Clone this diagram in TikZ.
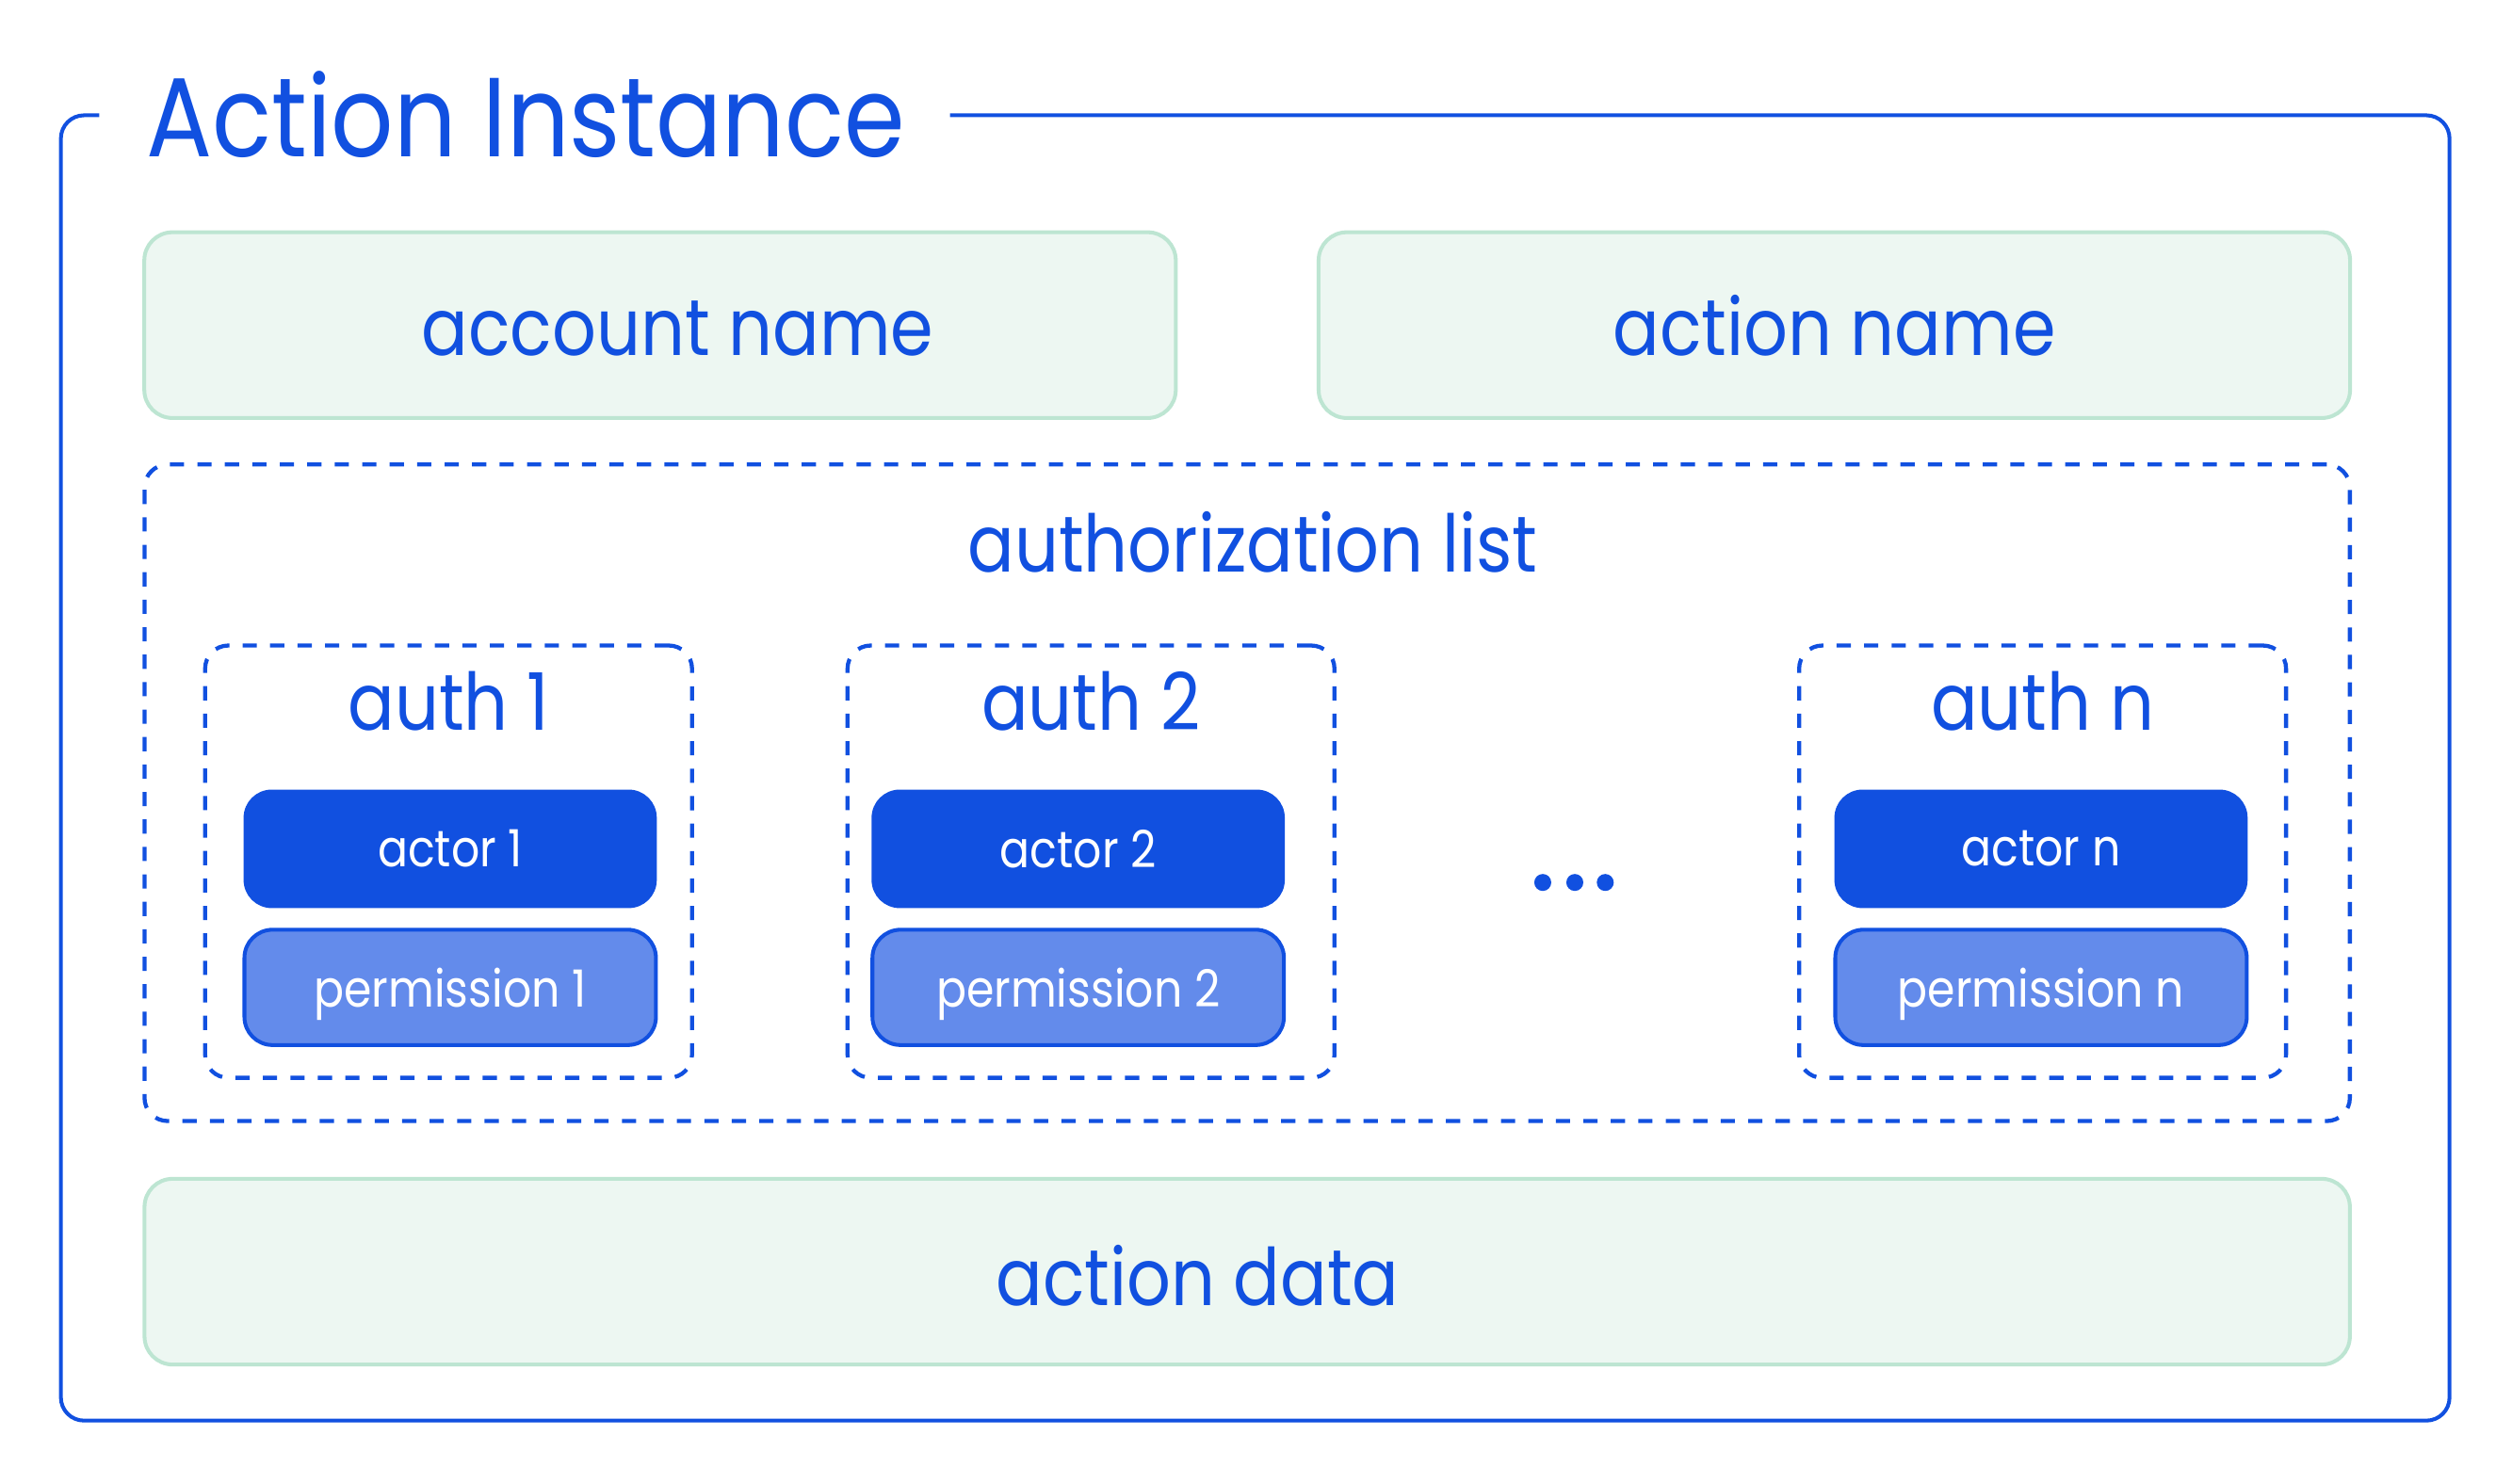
\documentclass[tikz,border=0pt]{standalone}
\usepackage{fontspec}
\setmainfont{Poppins}[FakeStretch=0.87]
\usepackage{xcolor}
\usepackage{tikz}
\usetikzlibrary{calc}
\usetikzlibrary{positioning}

\definecolor{ablue}{HTML}{1150E0}
\definecolor{fieldfill}{HTML}{EDF7F2}
\definecolor{fieldline}{HTML}{BDE5D2}
\definecolor{permfill}{HTML}{638BEB}

\begin{document}
\begin{tikzpicture}[x=0.017009cm, y=-0.017009cm, line width=1.15pt]
  \tikzstyle{field}=[draw=fieldline, fill=fieldfill, rounded corners=8.5pt, minimum width=10.954cm, minimum height=1.973cm]
  \tikzstyle{dashbox}=[draw=ablue, line width=1.22pt, dash pattern=on 4.3pt off 4pt, rounded corners=7pt]
  \tikzstyle{biglabel}=[text=ablue, inner sep=0pt, anchor=base, font=\fontsize{24}{28}\selectfont]
  \tikzstyle{actorbox}=[fill=ablue, rounded corners=8.5pt, minimum width=4.388cm, minimum height=1.259cm, text=white, font=\fontsize{15.5}{18}\selectfont]
  \tikzstyle{permbox}=[draw=ablue, fill=permfill, rounded corners=8.5pt, minimum width=4.37cm, minimum height=1.225cm, text depth=0pt, text=white, font=\fontsize{15.5}{18}\selectfont]
\useasboundingbox (0,0) rectangle (1568,926);
% outer frame with the title in its gap
\draw[ablue, rounded corners=7pt] (62,72) -- (38,72) -- (38,887) -- (1529,887) -- (1529,72) -- (593,72);
    \node[text=ablue, inner sep=0pt, anchor=base west, font=\fontsize{34}{40}\selectfont] (title) at (90,98) {Action Instance};
    \node[field] (account) at (412,203) {};
    \node[biglabel] (accountlabel) at (423,222) {account name};
    \node[field] (action) at (1145,203) {};
    \node[biglabel] (actionlabel) at (1145,222) {action name};
    \node[dashbox, minimum width=23.42cm, minimum height=6.974cm] (authlist) at (778.5,495) {};
    \node[biglabel] (listlabel) at (782,357) {authorization list};
\foreach \i/\x/\ax/\t in {1/280/281/1, 2/681/673/2, 3/1275/1274/n}{
    \node[dashbox, minimum width=5.171cm, minimum height=4.592cm] (auth\i) at (\x,538) {};
    \node[biglabel] (authlabel\i) at (\x,456) {auth \t};
    \node[actorbox] (actor\i) at (\ax,530) {actor \t};
    \node[permbox] (perm\i) at (\ax,616.5) {permission \t};
      }
\foreach \d in {963,983,1002}{
    \fill[ablue] (\d,551) circle (5.3);
      }
    \node[field, minimum width=23.42cm] (data) at (778.5,794) {};
    \node[biglabel] (datalabel) at (747.5,815) {action data};
   \end{tikzpicture}
\end{document}
